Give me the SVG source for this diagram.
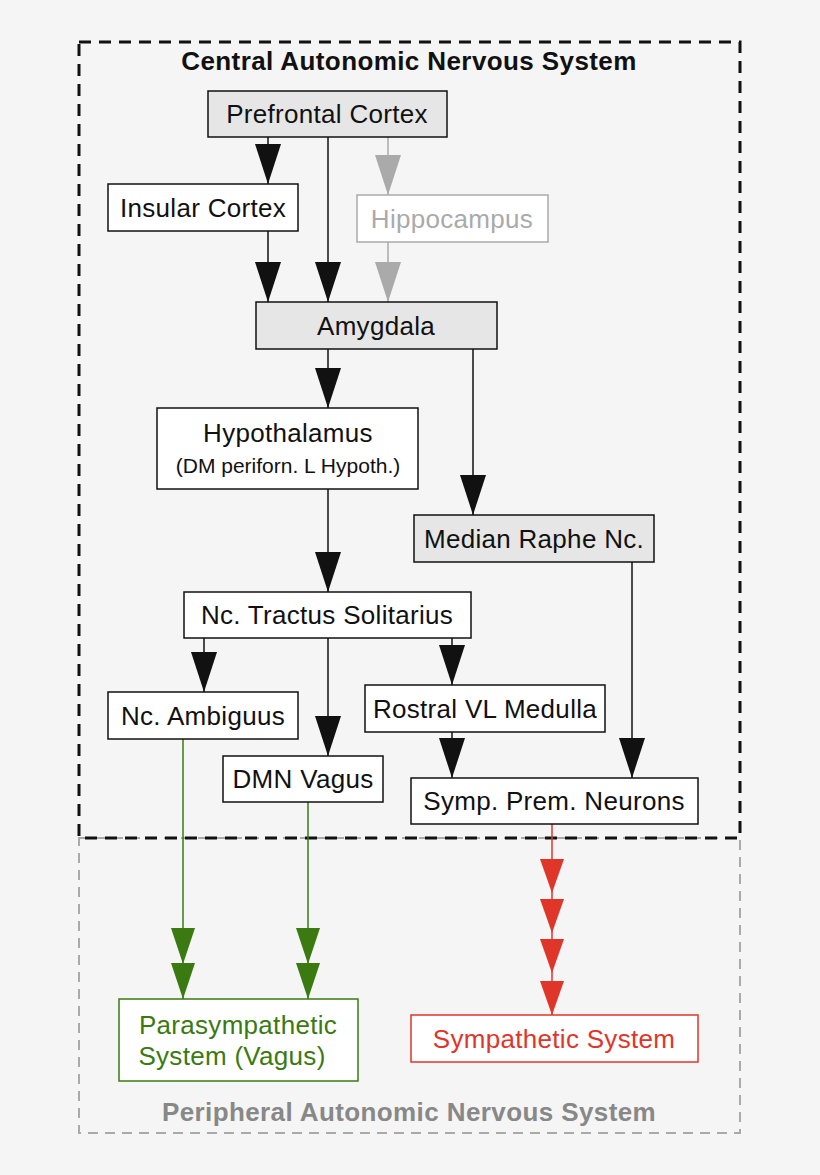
<svg xmlns="http://www.w3.org/2000/svg" width="820" height="1175" viewBox="0 0 820 1175">
<style>
text{font-family:"Liberation Sans",Arial,sans-serif;font-size:26px;letter-spacing:0.3px;text-anchor:middle;fill:#111}
.n rect{fill:#fff;stroke:#111;stroke-width:1.5}
.g rect{fill:#e6e6e6}
.c line,.c polyline{stroke:#111;stroke-width:1.5;fill:none}
</style>
<defs>
<marker id="k" markerUnits="userSpaceOnUse" markerWidth="40" markerHeight="26" viewBox="0 0 40 26" refX="40" refY="13" orient="auto"><path d="M0,0 L40,13 L0,26 Z" fill="#111"/></marker>
<marker id="gr" markerUnits="userSpaceOnUse" markerWidth="40" markerHeight="26" viewBox="0 0 40 26" refX="40" refY="13" orient="auto"><path d="M0,0 L40,13 L0,26 Z" fill="#aaa"/></marker>
<marker id="gn" markerUnits="userSpaceOnUse" markerWidth="36" markerHeight="24" viewBox="0 0 36 24" refX="36" refY="12" orient="auto"><path d="M0,0 L36,12 L0,24 Z" fill="#3a7a10"/></marker>
<marker id="rd" markerUnits="userSpaceOnUse" markerWidth="34" markerHeight="24" viewBox="0 0 34 24" refX="34" refY="12" orient="auto"><path d="M0,0 L34,12 L0,24 Z" fill="#e0362a"/></marker>
</defs>
<rect width="820" height="1175" fill="#f5f5f5"/>
<rect x="79" y="838" width="661" height="295" fill="none" stroke="#aaa" stroke-width="2" stroke-dasharray="10,7"/>
<rect x="79" y="42" width="661" height="796" fill="none" stroke="#111" stroke-width="3" stroke-dasharray="12,8"/>
<text x="409" y="70" style="font-weight:bold;font-size:26px;letter-spacing:0.4px">Central Autonomic Nervous System</text>
<text x="409" y="1121" style="font-weight:bold;fill:#888;font-size:26px;letter-spacing:0.4px">Peripheral Autonomic Nervous System</text>
<g class="c" id="connectors">
<line x1="268" y1="137" x2="268" y2="184" marker-end="url(#k)"/>
<line x1="328" y1="137" x2="328" y2="302" marker-end="url(#k)"/>
<line x1="388" y1="137" x2="388" y2="195" style="stroke:#aaa" marker-end="url(#gr)"/>
<line x1="268" y1="231" x2="268" y2="302" marker-end="url(#k)"/>
<line x1="388" y1="242" x2="388" y2="302" style="stroke:#aaa" marker-end="url(#gr)"/>
<line x1="328" y1="349" x2="328" y2="408" marker-end="url(#k)"/>
<polyline points="473,349 473,515" marker-end="url(#k)"/>
<line x1="328" y1="489" x2="328" y2="592" marker-end="url(#k)"/>
<line x1="204" y1="638" x2="204" y2="692" marker-end="url(#k)"/>
<line x1="328" y1="638" x2="328" y2="756" marker-end="url(#k)"/>
<line x1="452" y1="638" x2="452" y2="685" marker-end="url(#k)"/>
<line x1="452" y1="732" x2="452" y2="778" marker-end="url(#k)"/>
<line x1="632" y1="562" x2="632" y2="778" marker-end="url(#k)"/>
<polyline points="183,739 183,964 183,999" style="stroke:#3a7a10" marker-mid="url(#gn)" marker-end="url(#gn)"/>
<polyline points="308,802 308,964 308,999" style="stroke:#3a7a10" marker-mid="url(#gn)" marker-end="url(#gn)"/>
<polyline points="552,824 552,893 552,933 552,973 552,1015" style="stroke:#e0362a" marker-mid="url(#rd)" marker-end="url(#rd)"/>
</g>
<g id="pfc" class="n g"><rect x="208" y="91" width="239" height="46"/><text x="327" y="123">Prefrontal Cortex</text></g>
<g id="insular" class="n"><rect x="108" y="184" width="190" height="47"/><text x="203" y="217">Insular Cortex</text></g>
<g id="hippo" class="n"><rect x="357" y="195" width="191" height="47" style="stroke:#aaa"/><text x="452" y="228" style="fill:#aaa">Hippocampus</text></g>
<g id="amyg" class="n g"><rect x="256" y="302" width="241" height="47"/><text x="376" y="335">Amygdala</text></g>
<g id="hypo" class="n"><rect x="157" y="408" width="261" height="81"/><text x="288" y="442">Hypothalamus</text><text x="288" y="473" style="font-size:21px;letter-spacing:0">(DM periforn. L Hypoth.)</text></g>
<g id="raphe" class="n g"><rect x="414" y="515" width="240" height="47"/><text x="534" y="548">Median Raphe Nc.</text></g>
<g id="nts" class="n"><rect x="184" y="592" width="287" height="46"/><text x="327" y="624">Nc. Tractus Solitarius</text></g>
<g id="ambig" class="n"><rect x="108" y="692" width="190" height="47"/><text x="203" y="725">Nc. Ambiguus</text></g>
<g id="rvlm" class="n"><rect x="365" y="685" width="240" height="47"/><text x="485" y="718">Rostral VL Medulla</text></g>
<g id="dmn" class="n"><rect x="223" y="756" width="160" height="46"/><text x="303" y="788">DMN Vagus</text></g>
<g id="symp-prem" class="n"><rect x="411" y="778" width="287" height="46"/><text x="554" y="810">Symp. Prem. Neurons</text></g>
<g id="parasym" class="n"><rect x="119" y="999" width="239" height="82" style="stroke:#3a7a10"/><text x="238" y="1034" style="fill:#3a7a10">Parasympathetic</text><text x="232" y="1065" style="fill:#3a7a10">System (Vagus)</text></g>
<g id="sym" class="n"><rect x="411" y="1015" width="287" height="47" style="stroke:#e0362a"/><text x="554" y="1048" style="fill:#e0362a">Sympathetic System</text></g>
</svg>
